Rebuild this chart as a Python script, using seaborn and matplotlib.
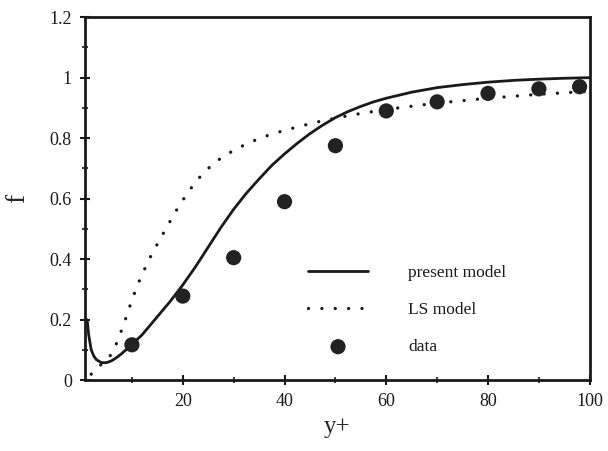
import matplotlib
matplotlib.use("Agg")
import matplotlib.pyplot as plt
import seaborn as sns
import pandas as pd
from matplotlib.ticker import MultipleLocator, FuncFormatter

# present model curve
present_x = [1.2, 1.5, 2.0, 2.5, 3.0, 4.0, 5.0, 6.0, 7.0, 8.0, 10, 12, 15, 17.5, 20, 22.5, 25, 27.5, 30, 32.5, 35, 37.5, 40, 42.5, 45, 47.5, 50, 52.5, 55, 57.5, 60, 65, 70, 75, 80, 85, 90, 95, 100]
present_y = [0.20, 0.15, 0.10, 0.08, 0.068, 0.058, 0.058, 0.064, 0.075, 0.088, 0.118, 0.15, 0.21, 0.26, 0.315, 0.375, 0.44, 0.505, 0.565, 0.618, 0.665, 0.71, 0.748, 0.783, 0.815, 0.843, 0.868, 0.888, 0.905, 0.92, 0.932, 0.952, 0.967, 0.977, 0.985, 0.991, 0.995, 0.998, 1.0]

# LS model curve
ls_x = [2.0, 3.0, 4.3, 5.7, 6.7, 7.5, 8.3, 9.0, 10, 11, 12, 13, 14, 15, 16, 17, 18.5, 20, 21.5, 23, 25, 27, 30, 33, 36, 40, 46, 53, 60, 70, 80, 90, 100]
ls_y = [0.02, 0.04, 0.056, 0.08, 0.11, 0.145, 0.18, 0.215, 0.265, 0.31, 0.35, 0.385, 0.42, 0.45, 0.48, 0.51, 0.555, 0.595, 0.632, 0.665, 0.70, 0.728, 0.76, 0.785, 0.805, 0.826, 0.852, 0.876, 0.895, 0.916, 0.932, 0.945, 0.955]

# measured data
data_x = [10, 20, 30, 40, 50, 60, 70, 80, 90, 98]
data_y = [0.117, 0.278, 0.405, 0.59, 0.775, 0.89, 0.92, 0.948, 0.963, 0.97]

sns.set_style("white")
plt.rcParams['font.family'] = ['Liberation Serif', 'DejaVu Serif']

fig = plt.figure(figsize=(6.08, 4.51), dpi=100)
ax = fig.add_axes([0.14, 0.157, 0.83, 0.805])

pres = pd.DataFrame({"x": present_x, "y": present_y})
ls = pd.DataFrame({"x": ls_x, "y": ls_y})
dat = pd.DataFrame({"x": data_x, "y": data_y})

sns.lineplot(data=pres, x="x", y="y", ax=ax, color="#1a1a1a", lw=2.0,
             label="present model", sort=False)
sns.lineplot(data=ls, x="x", y="y", ax=ax, color="#1a1a1a", lw=2.4,
             linestyle=(0, (0.01, 4.0)), dash_capstyle="round",
             label="LS model", sort=False)
sns.scatterplot(data=dat, x="x", y="y", ax=ax, color="#222222", s=120,
                edgecolor="none", label="data", zorder=5)

ax.set_xlim(0.8, 100)
ax.set_ylim(0, 1.2)
ax.xaxis.set_major_locator(MultipleLocator(20))
ax.xaxis.set_minor_locator(MultipleLocator(10))
ax.yaxis.set_major_locator(MultipleLocator(0.2))
ax.yaxis.set_minor_locator(MultipleLocator(0.1))

def yfmt(v, pos):
    s = f"{v:.1f}"
    if s.endswith(".0"):
        s = s[:-2]
    return s
ax.yaxis.set_major_formatter(FuncFormatter(yfmt))

for sp in ax.spines.values():
    sp.set_linewidth(2.0)
    sp.set_color("#1a1a1a")

ax.tick_params(which="major", direction="inout", length=7, width=1.5,
               labelsize=13, colors="#1a1a1a", left=True, bottom=True)
ax.tick_params(which="minor", direction="inout", length=5, width=1.2,
               left=True, bottom=True, color="#1a1a1a")
ax.tick_params(axis="x", pad=6)
ax.tick_params(axis="y", pad=6)

ax.set_xlabel("y+", fontsize=18, labelpad=4)
ax.set_ylabel("f", fontsize=20, labelpad=14)

leg = ax.legend(loc="upper left", bbox_to_anchor=(0.41, 0.36), frameon=False,
                fontsize=12.5, handlelength=3.5, handletextpad=2.3,
                labelspacing=1.2, markerscale=1.0)
for t in leg.get_texts():
    t.set_color("#1a1a1a")

fig.savefig("out.png", dpi=100)
